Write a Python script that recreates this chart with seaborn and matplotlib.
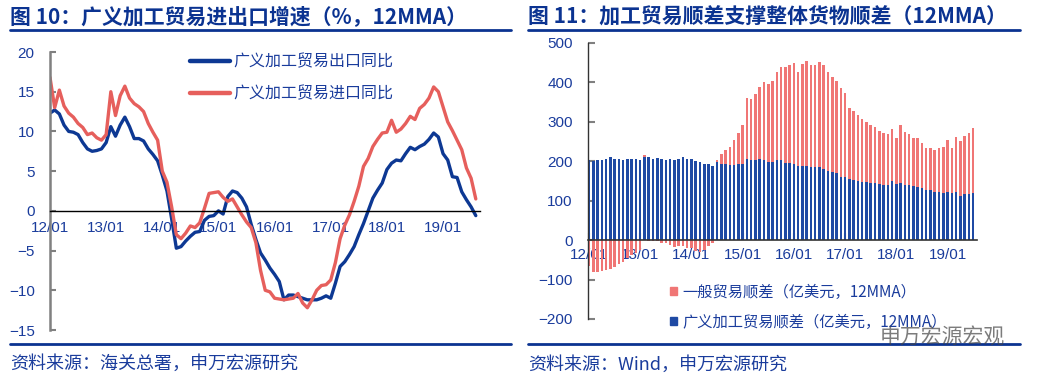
import numpy as np
import pandas as pd
import matplotlib
matplotlib.use('Agg')
import matplotlib.pyplot as plt
import seaborn as sns
from matplotlib.lines import Line2D
from matplotlib.patches import Patch

sns.set_theme(style='white')
plt.rcParams['font.family'] = ['Noto Sans CJK SC', 'DejaVu Sans']

# ---- data (monthly, 2012/01 onward) ----
year_labels = ['12/01', '13/01', '14/01', '15/01', '16/01', '17/01', '18/01', '19/01']

export_yoy = [12.3, 12.7, 12.2, 10.8, 10.0, 9.9, 9.6, 8.6, 7.8, 7.5, 7.6, 7.8,
              8.6, 10.6, 9.4, 10.8, 11.8, 10.6, 9.1, 9.1, 8.8, 7.8, 7.1, 6.3,
              4.5, 2.5, -1.0, -4.7, -4.5, -3.8, -3.2, -2.7, -2.6, -1.2, -0.7, -0.6,
              0.0, -0.4, 1.8, 2.5, 2.3, 1.6, 0.5, -1.7, -3.6, -5.3, -6.2, -7.2,
              -8.0, -8.9, -11.2, -10.6, -10.6, -10.8, -11.0, -11.2, -11.2, -11.2, -11.0, -10.7,
              -11.0, -9.1, -7.0, -6.4, -5.5, -4.5, -3.0, -1.6, 0.0, 1.6, 2.6, 3.5,
              5.2, 6.0, 6.4, 6.3, 7.2, 8.0, 7.7, 8.1, 8.4, 9.0, 9.8, 9.3,
              7.2, 6.4, 4.3, 4.2, 2.4, 1.4, 0.5, -0.6]

import_yoy = [16.8, 13.0, 15.2, 13.2, 12.3, 11.8, 11.0, 10.5, 9.6, 9.8, 9.2, 8.9,
              9.6, 15.0, 12.0, 14.5, 15.7, 14.2, 13.5, 13.1, 12.5, 11.0, 9.9, 8.9,
              5.0, 3.6, 0.5, -3.0, -3.5, -2.8, -1.9, -2.1, -1.5, 0.3, 2.2, 2.3,
              2.4, 1.7, 1.2, 1.5, 0.5, -0.5, -1.4, -2.1, -4.0, -7.5, -10.0, -10.2,
              -11.0, -11.1, -11.2, -11.1, -11.0, -10.4, -11.6, -12.2, -11.2, -10.0, -9.4, -9.3,
              -8.7, -6.5, -3.5, -1.8, -0.5, 1.2, 3.1, 5.6, 6.6, 8.1, 9.0, 9.8,
              9.9, 11.4, 9.9, 10.3, 11.0, 11.9, 11.5, 12.9, 13.4, 14.2, 15.6, 15.0,
              13.1, 11.2, 10.1, 8.9, 7.7, 5.4, 4.1, 1.5]

processing_balance = [202, 201, 202, 204, 206, 212, 206, 205, 203, 205, 205, 207,
                      203, 210, 210, 207, 208, 206, 203, 206, 203, 206, 210, 207,
                      207, 200, 197, 192, 192, 189, 197, 193, 192, 190, 190, 193,
                      193, 205, 202, 203, 205, 203, 197, 197, 204, 204, 196, 195,
                      192, 187, 187, 188, 185, 185, 186, 181, 175, 172, 170, 161,
                      159, 154, 153, 151, 148, 148, 146, 144, 143, 141, 141, 149,
                      143, 146, 141, 141, 138, 136, 131, 127, 126, 121, 121, 119,
                      121, 120, 121, 113, 116, 117, 119]

general_balance = [-65, -81, -80, -78, -76, -73, -68, -60, -55, -46, -38, -32,
                   -25, 7, -1, -2, -3, -6, -8, -13, -18, -16, -14, -19,
                   -20, -27, -30, -24, -16, -8, 5, 25, 37, 47, 63, 79,
                   100, 156, 155, 168, 183, 197, 199, 206, 223, 235, 243, 250,
                   258, 239, 260, 266, 260, 260, 266, 262, 251, 243, 233, 225,
                   214, 182, 174, 167, 158, 152, 147, 142, 135, 131, 129, 133,
                   116, 146, 133, 129, 121, 123, 116, 106, 107, 108, 113, 117,
                   132, 113, 141, 138, 148, 154, 165]

label_exp = '广义加工贸易出口同比'
label_imp = '广义加工贸易进口同比'
label_gen = '一般贸易顺差（亿美元，12MMA）'
label_proc = '广义加工贸易顺差（亿美元，12MMA）'

NAVY = '#0b3391'
TXT = '#1a3c9c'
BLUE_LINE = '#0d3893'
RED_LINE = '#e65f5c'
BLUE_BAR = '#1f4aa4'
RED_BAR = '#f07675'

W, H = 1051, 383
fig = plt.figure(figsize=(W / 100, H / 100), dpi=100)


def box(x0, y0, x1, y1):
    return [x0 / W, 1 - y1 / H, (x1 - x0) / W, (y1 - y0) / H]


# ---------------- left chart ----------------
ax1 = fig.add_axes(box(50, 52, 480, 330))
months = np.arange(len(export_yoy))
df = pd.DataFrame({'month': np.concatenate([months, months]),
                   'value': export_yoy + import_yoy,
                   'series': [label_exp] * len(months) + [label_imp] * len(months)})
sns.lineplot(data=df, x='month', y='value', hue='series',
             palette=[BLUE_LINE, RED_LINE], linewidth=2.4, ax=ax1, legend=False)
ax1.set_xlim(0, 91.9)
ax1.set_ylim(-15, 20)
ax1.set_yticks(range(-15, 21, 5))
ax1.set_xticks(np.arange(0, 96, 12)[:8])
ax1.set_xticklabels(year_labels)
ax1.set_xticks(np.arange(0, 92, 2), minor=True)
ax1.set_xlabel('')
ax1.set_ylabel('')
for s in ['top', 'right']:
    ax1.spines[s].set_visible(False)
ax1.spines['bottom'].set_position(('data', 0))
ax1.spines['bottom'].set_color('black')
ax1.spines['bottom'].set_linewidth(1.0)
ax1.spines['left'].set_color('#808080')
ax1.spines['left'].set_linewidth(1.8)
ax1.tick_params(axis='x', which='major', direction='in', length=6, width=1,
                color='#555555', pad=7, labelsize=11, labelcolor=TXT)
ax1.tick_params(axis='x', which='minor', direction='in', length=4, width=0.8,
                color='#555555')
ax1.tick_params(axis='y', direction='in', length=4, width=1.5, color='#808080',
                pad=11, labelsize=11, labelcolor=TXT, left=True)
for t in ax1.get_xticklabels() + ax1.get_yticklabels():
    t.set_fontfamily(['Liberation Sans', 'DejaVu Sans'])
ax1.legend(handles=[Line2D([], [], color=BLUE_LINE, lw=3.2, label=label_exp),
                    Line2D([], [], color=RED_LINE, lw=3.2, label=label_imp)],
           loc='upper left', bbox_to_anchor=(0.325, 0.995), frameon=False,
           fontsize=11.5, handlelength=2.5, handletextpad=0.2, labelspacing=0.95,
           borderpad=0, borderaxespad=0, labelcolor=TXT)

# ---------------- right chart ----------------
ax2 = fig.add_axes(box(588, 43, 977, 319))
idx = np.arange(len(processing_balance))
proc = np.array(processing_balance)
gen = np.array(general_balance)
sns.barplot(x=idx, y=proc, native_scale=True, color=BLUE_BAR, saturation=1,
            width=0.6, linewidth=0, ax=ax2)
ax2.bar(idx, gen, bottom=np.where(gen > 0, proc, 0), width=0.6,
        color=RED_BAR, linewidth=0)
ax2.set_xlim(-0.23, 90.9)
ax2.set_ylim(-200, 500)
ax2.set_yticks(range(-200, 501, 100))
ax2.set_xticks(np.arange(0, 96, 12)[:8])
ax2.set_xticklabels(year_labels)
ax2.set_xlabel('')
ax2.set_ylabel('')
for s in ['top', 'right']:
    ax2.spines[s].set_visible(False)
ax2.spines['bottom'].set_position(('data', 0))
ax2.spines['bottom'].set_color('#333333')
ax2.spines['bottom'].set_linewidth(1.2)
ax2.spines['left'].set_color('#333333')
ax2.spines['left'].set_linewidth(1.0)
ax2.tick_params(axis='x', direction='in', length=5, width=1.5, color='#666666',
                pad=6, labelsize=11, labelcolor=TXT, bottom=True)
ax2.tick_params(axis='y', direction='in', length=5, width=1.5, color='#808080',
                pad=11, labelsize=11, labelcolor=TXT, left=True)
for t in ax2.get_xticklabels() + ax2.get_yticklabels():
    t.set_fontfamily(['Liberation Sans', 'DejaVu Sans'])
ax2.legend(handles=[Patch(color=RED_BAR, label=label_gen),
                    Patch(color=BLUE_BAR, label=label_proc)],
           loc='upper left', bbox_to_anchor=(0.212, 0.128), frameon=False,
           fontsize=11, handlelength=0.45, handleheight=0.45, handletextpad=0.3,
           labelspacing=0.85, borderpad=0, borderaxespad=0, labelcolor=TXT)

# ---------------- frame texts ----------------
fig.text(10 / W, 1 - 17 / H, '图 10：广义加工贸易进出口增速（%，12MMA）',
         fontsize=15, fontweight='bold', color=NAVY, va='center', ha='left')
fig.text(528 / W, 1 - 17 / H, '图 11：加工贸易顺差支撑整体货物顺差（12MMA）',
         fontsize=15, fontweight='bold', color=NAVY, va='center', ha='left')
for x0, x1 in [(10, 511), (528, 1020)]:
    for yy in (29.5, 344):
        fig.add_artist(Line2D([x0 / W, x1 / W], [1 - yy / H, 1 - yy / H],
                              color=NAVY, lw=2.0))
fig.text(10 / W, 1 - 364 / H, '资料来源：海关总署，申万宏源研究',
         fontsize=13, color=TXT, va='center', ha='left')
fig.text(528 / W, 1 - 365 / H, '资料来源：Wind，申万宏源研究',
         fontsize=13, color=TXT, va='center', ha='left')
fig.text(880 / W, 1 - 338 / H, '申万宏源宏观', fontsize=15, color='#444444',
         alpha=0.7, va='center', ha='left')

fig.savefig('out.png', dpi=100)
